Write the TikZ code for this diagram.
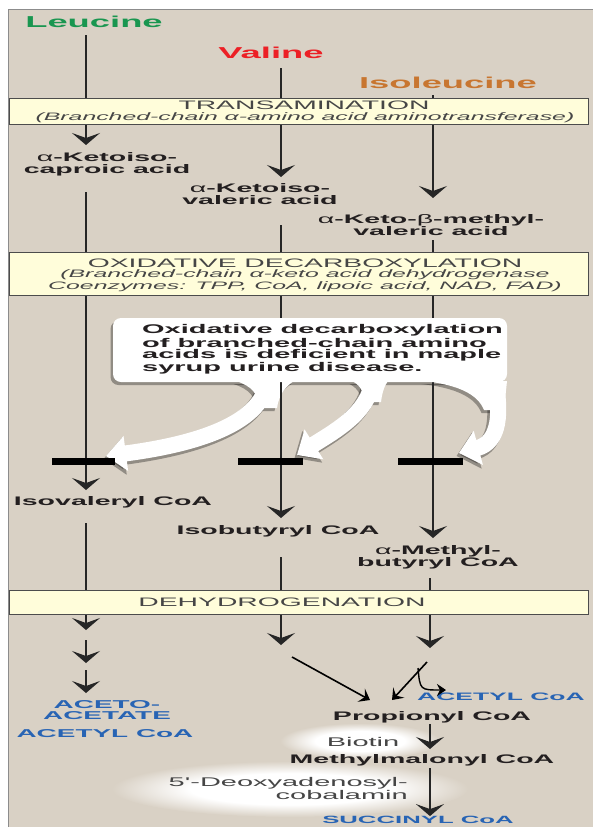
\documentclass[tikz,border=0pt]{standalone}
\usepackage{fontspec}
\setmainfont{Liberation Sans}
\newfontfamily\wide{Liberation Sans}[FakeStretch=2.3]
\newfontfamily\wideb{Liberation Sans}[FakeStretch=2.45]
\usetikzlibrary{arrows.meta}
\definecolor{panelc}{RGB}{217,209,197}
\definecolor{boxc}{RGB}{255,253,218}
\definecolor{leuc}{RGB}{25,150,80}
\definecolor{valc}{RGB}{236,32,38}
\definecolor{ilec}{RGB}{200,118,48}
\definecolor{bluec}{RGB}{40,100,180}
\definecolor{txtc}{RGB}{35,31,32}
\definecolor{grayt}{RGB}{70,70,70}
\pgfdeclareradialshading{glow}{\pgfpoint{0bp}{0bp}}{color(0bp)=(white); color(14bp)=(white); color(25bp)=(panelc); color(50bp)=(panelc)}
\begin{document}
\begin{tikzpicture}[x=1pt,y=-1pt,
  ln/.style={line width=2.7pt, draw=black!85},
  arr/.style={ln, -{Stealth[length=12pt,width=28pt,inset=5pt]}},
  thinarr/.style={line width=1.6pt, draw=black, -{Stealth[length=10pt,width=15pt,inset=4pt]}},
  title/.style={font=\wide\bfseries\fontsize{15.8}{16}\selectfont, inner sep=0pt},
  lab/.style={font=\wide\bfseries\fontsize{12.4}{12}\selectfont, text=txtc, align=center, inner sep=0pt},
  bl/.style={font=\wideb\bfseries\fontsize{11.4}{11.5}\selectfont, text=bluec, align=center, inner sep=0pt},
  stage/.style={draw=black!70, line width=0.8pt, fill=boxc, inner sep=0pt, anchor=north west},
  head/.style={font=\wide\fontsize{12.3}{12}\selectfont, text=grayt, inner sep=0pt},
  sub/.style={font=\wide\itshape\fontsize{10.8}{12}\selectfont, text=grayt, inner sep=0pt, align=center},
  co/.style={font=\wide\fontsize{12.6}{13}\selectfont, text=grayt, inner sep=0pt},
  call/.style={font=\wide\bfseries\fontsize{12.6}{13}\selectfont, text=txtc, inner sep=0pt, anchor=west},
  bar/.style={line width=7pt, draw=black},
  wshadow/.style={line width=17pt, draw=black, opacity=0.33, -{Triangle[length=21pt,width=36pt]}},
  warrow/.style={line width=16pt, draw=white, -{Triangle[length=20pt,width=34pt]}},
]
\useasboundingbox (0,0) rectangle (593,827);
% panel
\fill[panelc] (8,9) rectangle (600,840);
\draw[black!45, line width=0.8pt] (8,840) -- (8,9) -- (600,9);

% glows
\shade[shading=glow] (360,741) ellipse (80 and 18);
\shade[shading=glow] (290,789) ellipse (178 and 28);

% callout shadows
\begin{scope}[shift={(-2.5,3)}]
  \fill[black, opacity=0.33, rounded corners=8pt] (113,318) rectangle (507,382);
  \fill[black, opacity=0.33] (236,381) .. controls (252,386) and (258,394) .. (260,408) -- (277,408) .. controls (279,394) and (286,386) .. (294,381) -- cycle;
  \fill[black, opacity=0.33] (352,381) .. controls (362,386) and (364,394) .. (364,402) -- (381,402) .. controls (382,394) and (384,386) .. (388,381) -- cycle;
  \fill[black, opacity=0.33] (424,381) .. controls (460,385) and (478,395) .. (484,410) -- (504,410) .. controls (506,395) .. (507,381) -- cycle;
  \draw[wshadow] (268,375) .. controls (268,425) and (190,445) .. (106,456);
  \draw[wshadow] (373,375) .. controls (372,410) and (340,428) .. (297,455);
  \draw[wshadow] (494,375) .. controls (502,412) and (500,442) .. (459,453);
\end{scope}
% white arrows
\fill[white] (236,381) .. controls (252,386) and (258,394) .. (260,408) -- (277,408) .. controls (279,394) and (286,386) .. (294,381) -- cycle;
\fill[white] (352,381) .. controls (362,386) and (364,394) .. (364,402) -- (381,402) .. controls (382,394) and (384,386) .. (388,381) -- cycle;
\fill[white] (424,381) .. controls (460,385) and (478,395) .. (484,410) -- (504,410) .. controls (506,395) .. (507,381) -- cycle;
\draw[warrow] (268,375) .. controls (268,425) and (190,445) .. (106,456);
\draw[warrow] (373,375) .. controls (372,410) and (340,428) .. (297,455);
\draw[warrow] (494,375) .. controls (502,412) and (500,442) .. (459,453);

% coordinates
\coordinate (l1) at (86,35);   \coordinate (l1e) at (86,145);
\coordinate (l2) at (86,192);  \coordinate (l2e) at (86,490);
\coordinate (l3) at (86,523);  \coordinate (l3e) at (86,630);
\coordinate (l4) at (86,640);  \coordinate (l4e) at (86,663);
\coordinate (l5) at (86,670);  \coordinate (l5e) at (86,693);
\coordinate (v1) at (281,68);  \coordinate (v1e) at (281,177);
\coordinate (v2) at (281,225); \coordinate (v2e) at (281,518);
\coordinate (v3) at (281,557); \coordinate (v3e) at (281,645);
\coordinate (i1) at (433,95);  \coordinate (i1e) at (433,198);
\coordinate (i2) at (433,240); \coordinate (i2e) at (433,538);
\coordinate (i3) at (430,578); \coordinate (i3e) at (430,648);

% pathway lines
\draw[arr] (l1) -- (l1e);
\draw[arr] (l2) -- (l2e);
\draw[arr] (l3) -- (l3e);
\draw[arr] (l4) -- (l4e);
\draw[arr] (l5) -- (l5e);
\draw[arr] (v1) -- (v1e);
\draw[arr] (v2) -- (v2e);
\draw[arr] (v3) -- (v3e);
\draw[arr] (i1) -- (i1e);
\draw[arr] (i2) -- (i2e);
\draw[arr] (i3) -- (i3e);

% callout box
\fill[white, rounded corners=8pt] (113,318) rectangle (507,382);
\node[call] (c1) at (142,330) {Oxidative decarboxylation};
\node[call] (c2) at (142,343) {of branched-chain amino};
\node[call] (c3) at (142,355.5) {acids is deficient in maple};
\node[call] (c4) at (142,368) {syrup urine disease.};

% bars
\draw[bar] (52,461) -- (115,461);
\draw[bar] (238,461) -- (303,461);
\draw[bar] (398,461) -- (463,461);

% stage boxes
\node[stage, minimum width=579pt, minimum height=26pt] (tbox) at (9,98) {};
\node[head] (th) at (304,105.5) {TRANSAMINATION};
\node[sub] (ts) at (305,117.5) {(Branched-chain α-amino acid aminotransferase)};
\node[stage, minimum width=579pt, minimum height=43pt] (obox) at (9,252) {};
\node[head] (oh) at (305,263.5) {OXIDATIVE DECARBOXYLATION};
\node[sub] (os) at (305,280.5) {(Branched-chain α-keto acid dehydrogenase\\Coenzymes: TPP, CoA, lipoic acid, NAD, FAD)};
\node[stage, minimum width=579pt, minimum height=24pt] (dbox) at (9,590) {};
\node[head] (dh) at (282,602.5) {DEHYDROGENATION};

% titles
\node[title, text=leuc] (leu) at (94,22) {Leucine};
\node[title, text=valc] (val) at (271,53) {Valine};
\node[title, text=ilec] (ile) at (448,83) {Isoleucine};

% intermediates
\node[lab] (kic) at (107,164.5) {{\mdseries α}-Ketoiso-\\caproic acid};
\node[lab] (kiv) at (260,194.5) {{\mdseries α}-Ketoiso-\\valeric acid};
\node[lab] (kmv) at (431,225.5) {{\mdseries α}-Keto-{\mdseries β}-methyl-\\valeric acid};
\node[lab] (ivc) at (113,502) {Isovaleryl CoA};
\node[lab] (ibc) at (278,531) {Isobutyryl CoA};
\node[lab] (mbc) at (438,557.5) {{\mdseries α}-Methyl-\\butyryl CoA};

% products
\node[bl] (aa) at (107,710) {ACETO-\\ACETATE};
\node[bl] (ac1) at (105,734) {ACETYL CoA};
\node[bl, anchor=west, font=\wideb\bfseries\fontsize{10.8}{11}\selectfont] (ac2) at (417,697) {ACETYL CoA};
\node[lab] (prop) at (432,717) {Propionyl CoA};
\node[co] (bio) at (363,742) {Biotin};
\node[lab] (mm) at (422,760) {Methylmalonyl CoA};
\node[co, anchor=east, align=right] (dac) at (408,788.5) {5'-Deoxyadenosyl-\\cobalamin};
\node[bl, font=\wideb\bfseries\fontsize{10.5}{11}\selectfont] (suc) at (418,820) {SUCCINYL CoA};

% lower connectors
\coordinate (dv) at (292,657);
\coordinate (dvp) at (370,700);
\coordinate (di) at (427,662);
\coordinate (dip) at (392,700);
\coordinate (br) at (418,668);
\coordinate (brt) at (446,690);
\draw[thinarr] (dv) -- (dvp);
\draw[thinarr] (di) -- (dip);
\draw[line width=1.4pt, -{Stealth[length=9pt,width=12pt,inset=3pt]}] (br) .. controls (420,690) .. (brt);
\draw[arr] (prop.south -| 430,0) ++(0,1) -- (430,749);
\draw[arr] (430,768) -- (suc.north -| 430,0);
\end{tikzpicture}
\end{document}
